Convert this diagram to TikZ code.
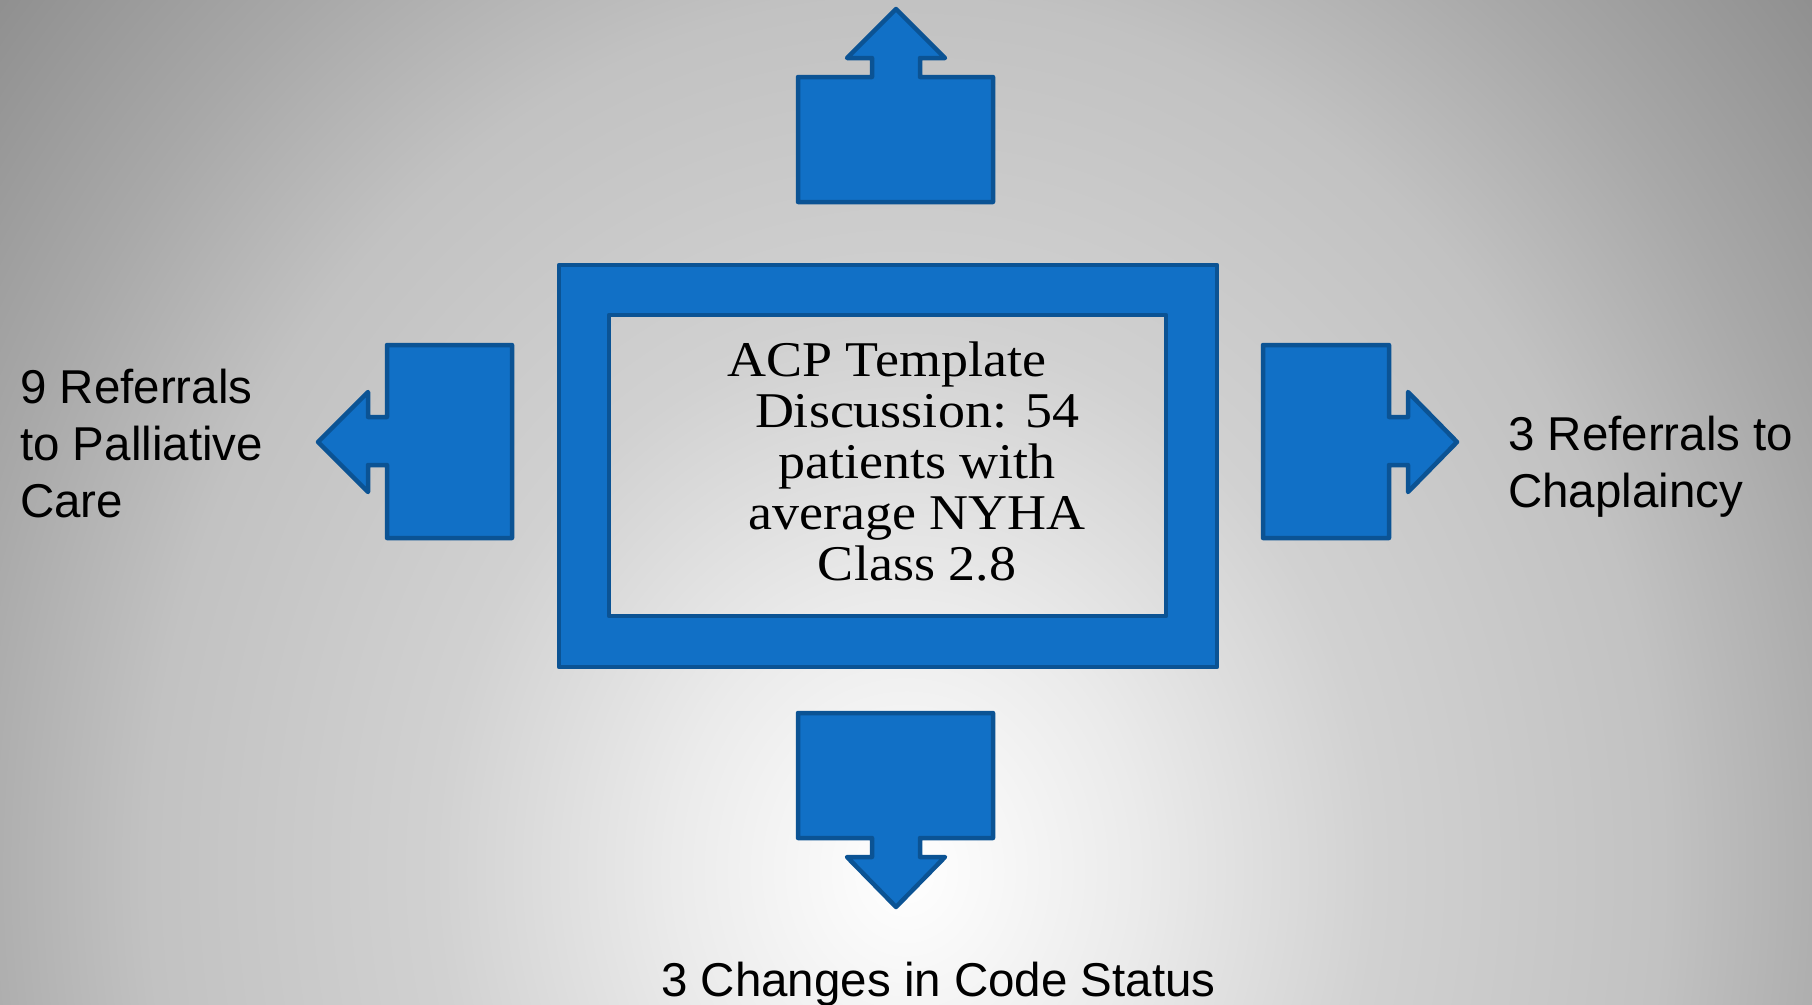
\documentclass[tikz,border=0pt]{standalone}
\usepackage{fontspec}
\newfontfamily\labelfont{Liberation Sans}
\newfontfamily\hubfont{Liberation Serif}

\definecolor{calloutfill}{HTML}{1170C6}
\definecolor{calloutedge}{HTML}{0B5394}
\definecolor{bgA}{gray}{0.92}
\definecolor{bgB}{gray}{0.82}
\definecolor{bgC}{gray}{0.76}
\definecolor{bgD}{gray}{0.66}
\definecolor{bgE}{gray}{0.555}

% soft grey backdrop, brightest near the lower middle
\pgfdeclareradialshading{slidebg}{\pgfpoint{0bp}{0bp}}{%
  color(0bp)=(white); color(4.9bp)=(bgA); color(9.8bp)=(bgB);
  color(15.8bp)=(bgC); color(20bp)=(bgD); color(25bp)=(bgE); color(50bp)=(bgE)}

\begin{document}
\begin{tikzpicture}[x=1pt,y=-1pt,
  callout/.style={fill=calloutfill, draw=calloutedge, line width=4.5pt, line join=round},
  sidelabel/.style={font=\labelfont\fontsize{47.5}{57}\selectfont, inner sep=0pt, text=black},
  hubtext/.style={font=\hubfont\fontsize{50}{51}\selectfont, inner sep=0pt, text=black}]

\useasboundingbox (0,0) rectangle (1812,1004);
\begin{scope}
  \clip (0,0) rectangle (1812,1004);
  \shade[shading=slidebg] (-294,-510) rectangle (2106,2250);
\end{scope}

% central frame
\path[callout, even odd rule] (559,265) rectangle (1217,667) (609,315) rectangle (1166,616);

% arrow callouts
\path[callout] (798,202) -- (798,77) -- (872,77) -- (872,58) -- (847,58) -- (896,9)
  -- (945,58) -- (920,58) -- (920,77) -- (993,77) -- (993,202) -- cycle;
\path[callout] (798,713) -- (993,713) -- (993,838) -- (920,838) -- (920,857) -- (945,857)
  -- (896,907) -- (847,857) -- (872,857) -- (872,838) -- (798,838) -- cycle;
\path[callout] (512,345) -- (512,538) -- (387,538) -- (387,465) -- (368,465) -- (368,492)
  -- (318,442) -- (368,392) -- (368,417) -- (387,417) -- (387,345) -- cycle;
\path[callout] (1263,345) -- (1263,538) -- (1389,538) -- (1389,465) -- (1408,465) -- (1408,492)
  -- (1457,442) -- (1408,392) -- (1408,417) -- (1389,417) -- (1389,345) -- cycle;

% texts
\node[hubtext, anchor=base] (hub) at (917,376)
  {\scalebox{1.08}[1]{\begin{tabular}[t]{@{}c@{}}ACP Template\hspace*{56pt}\\Discussion: 54\\patients with\\average NYHA\\Class 2.8\end{tabular}}};
\node[sidelabel, anchor=base west] (palliative) at (20,403)
  {\begin{tabular}[t]{@{}l@{}}9 Referrals\\to Palliative\\Care\end{tabular}};
\node[sidelabel, anchor=base west] (chaplaincy) at (1508,450)
  {\begin{tabular}[t]{@{}l@{}}3 Referrals to\\Chaplaincy\end{tabular}};
\node[sidelabel, anchor=base west] (codestatus) at (661,996) {3 Changes in Code Status};
\end{tikzpicture}
\end{document}
